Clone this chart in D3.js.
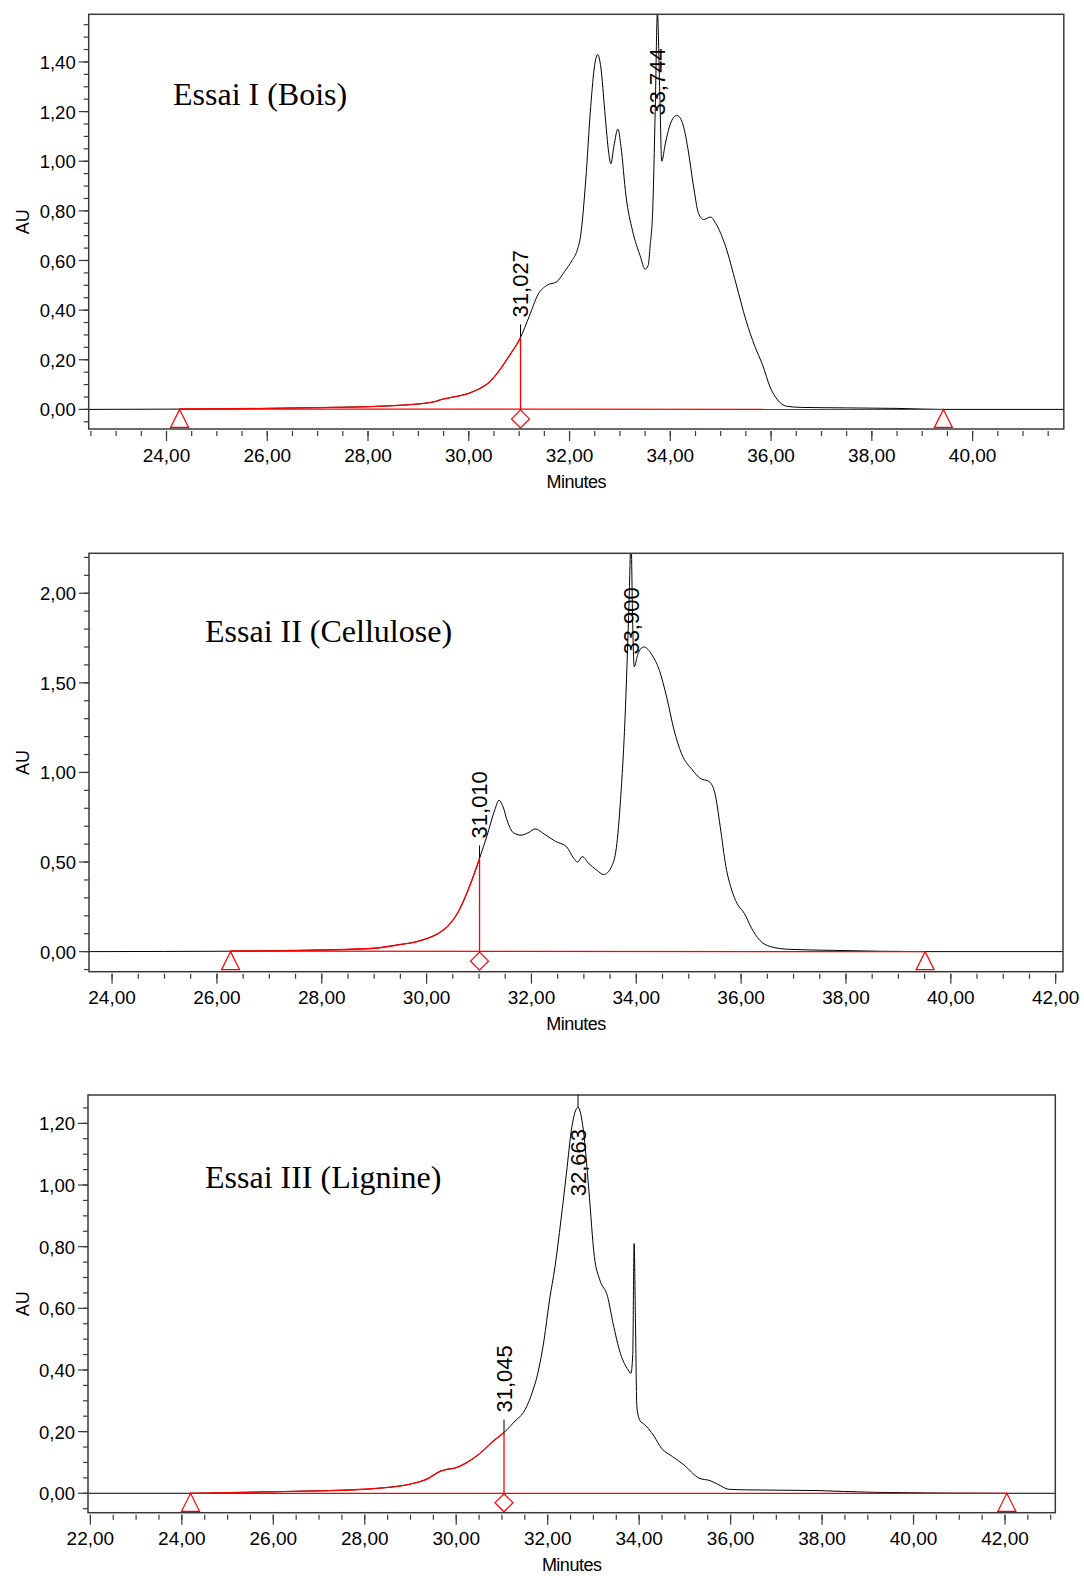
<!DOCTYPE html>
<html><head><meta charset="utf-8">
<script src="https://cdn.jsdelivr.net/npm/d3@7"></script>
<style>body{margin:0;background:#fff}svg{display:block}</style>
</head><body>
<svg id="chart" width="1084" height="1576"></svg>
<script>
// ---------------- DATA ----------------
// Essai I (Bois)
const essai1Title = "Essai I (Bois)";
const essai1Time = [22.46,24.0,25.0,26.0,27.0,28.0,28.5,29.0,29.3,29.5,29.7,30.0,30.2,30.4,30.6,30.8,31.027,31.2,31.38,31.55,31.75,31.9,32.05,32.15,32.22,32.32,32.42,32.5,32.56,32.62,32.7,32.78,32.82,32.88,32.96,33.02,33.12,33.25,33.4,33.5,33.56,33.6,33.65,33.7,33.744,33.79,33.83,33.9,34.0,34.13,34.24,34.35,34.46,34.56,34.66,34.8,34.9,35.1,35.3,35.5,35.68,35.83,35.98,36.13,36.3,36.6,37.5,38.5,39.42,41.87];
const essai1AU   = [0,0.001,0.002,0.004,0.007,0.011,0.015,0.022,0.03,0.042,0.05,0.065,0.082,0.108,0.155,0.215,0.29,0.375,0.465,0.50,0.515,0.555,0.60,0.64,0.70,0.92,1.22,1.39,1.43,1.38,1.2,1.03,0.99,1.06,1.13,1.06,0.86,0.72,0.62,0.565,0.58,0.66,0.80,1.2,1.6,1.28,1.0,1.07,1.15,1.185,1.155,1.05,0.9,0.79,0.765,0.775,0.75,0.655,0.51,0.36,0.253,0.18,0.09,0.038,0.013,0.008,0.006,0.004,0.0,0.0];
const essai1XTicks = [24,26,28,30,32,34,36,38,40];
const essai1YTicks = [0,0.2,0.4,0.6,0.8,1.0,1.2,1.4];
const essai1Peaks = [31.027,33.744];
const essai1PeakLabels = ["31,027","33,744"];
const essai1Integration = [24.26,31.027,39.42]; // start, drop, end

// Essai II (Cellulose)
const essai2Title = "Essai II (Cellulose)";
const essai2Time = [23.56,25.0,26.0,27.0,28.0,29.0,29.5,29.8,30.0,30.2,30.4,30.6,30.8,31.01,31.15,31.3,31.38,31.45,31.55,31.65,31.8,31.95,32.07,32.25,32.46,32.67,32.81,32.88,32.97,33.1,33.24,33.38,33.52,33.62,33.7,33.785,33.86,33.9,33.93,33.96,34.03,34.14,34.3,34.44,34.58,34.72,34.86,35.07,35.22,35.39,35.5,35.6,35.71,35.82,35.92,36.06,36.2,36.35,36.56,36.91,37.76,39.51,42.14];
const essai2AU   = [0,0.001,0.002,0.004,0.009,0.019,0.04,0.055,0.072,0.098,0.14,0.22,0.35,0.52,0.645,0.79,0.845,0.815,0.72,0.665,0.65,0.665,0.685,0.655,0.615,0.585,0.52,0.50,0.53,0.49,0.456,0.43,0.47,0.58,0.85,1.3,1.93,2.3,1.85,1.59,1.66,1.70,1.656,1.57,1.42,1.237,1.107,1.014,0.967,0.949,0.884,0.70,0.474,0.344,0.27,0.214,0.13,0.065,0.028,0.013,0.007,0.0,0.0];
const essai2XTicks = [24,26,28,30,32,34,36,38,40,42];
const essai2YTicks = [0,0.5,1.0,1.5,2.0];
const essai2Peaks = [31.01,33.9];
const essai2PeakLabels = ["31,010","33,900"];
const essai2Integration = [26.26,31.01,39.51];

// Essai III (Lignine)
const essai3Title = "Essai III (Lignine)";
const essai3Time = [21.95,24.19,25.0,26.0,27.0,28.0,28.5,29.0,29.4,29.6,29.75,30.0,30.2,30.4,30.6,30.8,31.045,31.31,31.47,31.63,31.8,31.92,32.04,32.16,32.29,32.41,32.53,32.663,32.78,32.9,33.02,33.14,33.31,33.43,33.59,33.76,33.82,33.86,33.89,33.92,33.95,34.02,34.1,34.2,34.33,34.49,34.73,34.98,35.31,35.55,35.71,35.96,36.37,37.84,39.14,42.04,43.1];
const essai3AU   = [0,0,0.002,0.005,0.008,0.013,0.019,0.03,0.049,0.068,0.076,0.083,0.097,0.116,0.14,0.168,0.197,0.238,0.262,0.314,0.40,0.497,0.627,0.735,0.886,1.038,1.19,1.252,1.178,0.984,0.768,0.692,0.638,0.551,0.454,0.40,0.389,0.45,0.81,0.55,0.28,0.235,0.225,0.21,0.184,0.146,0.119,0.092,0.049,0.041,0.03,0.013,0.011,0.009,0.003,0.0,0.0];
const essai3XTicks = [22,24,26,28,30,32,34,36,38,40,42];
const essai3YTicks = [0,0.2,0.4,0.6,0.8,1.0,1.2];
const essai3Peaks = [31.045,32.663];
const essai3PeakLabels = ["31,045","32,663"];
const essai3Integration = [24.19,31.045,42.04];

const xAxisTitle = "Minutes";
const yAxisTitle = "AU";

// ---------------- LAYOUT ----------------
const panels = [
  {title: essai1Title, time: essai1Time, au: essai1AU, xTicks: essai1XTicks, yTicks: essai1YTicks,
   peaks: essai1Peaks, peakLabels: essai1PeakLabels, integ: essai1Integration,
   xDomain:[22.456,41.81], yDomain:[-0.079,1.592], xMinorStep:0.5, yMinorStep:0.05,
   left:88.7, right:1063.8, top:14.3, bottom:429, titleX:173, titleY:105},
  {title: essai2Title, time: essai2Time, au: essai2AU, xTicks: essai2XTicks, yTicks: essai2YTicks,
   peaks: essai2Peaks, peakLabels: essai2PeakLabels, integ: essai2Integration,
   xDomain:[23.56,42.14], yDomain:[-0.112,2.223], xMinorStep:0.5, yMinorStep:0.1,
   left:89, right:1063, top:553.3, bottom:971.7, titleX:205, titleY:641.5},
  {title: essai3Title, time: essai3Time, au: essai3AU, xTicks: essai3XTicks, yTicks: essai3YTicks,
   peaks: essai3Peaks, peakLabels: essai3PeakLabels, integ: essai3Integration,
   xDomain:[21.948,43.1], yDomain:[-0.063,1.292], xMinorStep:0.5, yMinorStep:0.05,
   left:88, right:1055.3, top:1095, bottom:1512.7, titleX:205, titleY:1188}
];

const svg = d3.select("#chart");
const sans = "'Liberation Sans', Arial, Helvetica, sans-serif";
const serif = "'Liberation Serif', 'Times New Roman', Times, serif";
const fmt = v => d3.format(".2f")(v).replace(".", ",");
const red = "#ff0000";
const frameColor = "#3a3a3a";

panels.forEach((p, i) => {
  const g = svg.append("g");
  const x = d3.scaleLinear().domain(p.xDomain).range([p.left, p.right]);
  const y = d3.scaleLinear().domain(p.yDomain).range([p.bottom, p.top]);
  const data = p.time.map((t, k) => ({t, v: p.au[k]}));
  const valueAt = t => {
    const k = d3.bisector(d => d.t).left(data, t);
    if (k <= 0) return data[0].v;
    if (k >= data.length) return data[data.length-1].v;
    const a = data[k-1], b = data[k];
    if (b.t === t) return b.v;
    return a.v + (b.v - a.v) * (t - a.t) / (b.t - a.t);
  };

  const clipId = "clip" + i, redClipId = "redclip" + i;
  const defs = svg.append("defs");
  defs.append("clipPath").attr("id", clipId).append("rect")
    .attr("x", p.left).attr("y", p.top).attr("width", p.right - p.left).attr("height", p.bottom - p.top);
  defs.append("clipPath").attr("id", redClipId).append("rect")
    .attr("x", x(p.integ[0])).attr("y", p.top)
    .attr("width", x(p.integ[1]) - x(p.integ[0])).attr("height", p.bottom - p.top);

  // y ticks
  const [y0, y1] = p.yDomain;
  const yMinor = d3.range(Math.ceil(y0 / p.yMinorStep) * p.yMinorStep, y1 + 1e-9, p.yMinorStep);
  g.selectAll(".ymin").data(yMinor).join("line")
    .attr("x1", p.left - 5).attr("x2", p.left).attr("y1", d => y(d)).attr("y2", d => y(d))
    .attr("stroke", frameColor).attr("stroke-width", 1.2);
  g.selectAll(".ymaj").data(p.yTicks).join("line")
    .attr("x1", p.left - 10).attr("x2", p.left).attr("y1", d => y(d)).attr("y2", d => y(d))
    .attr("stroke", frameColor).attr("stroke-width", 1.2);
  g.selectAll(".ylab").data(p.yTicks).join("text")
    .attr("x", p.left - 13).attr("y", d => y(d)).attr("dy", "0.38em")
    .attr("text-anchor", "end").attr("font-family", sans).attr("font-size", 18.5).attr("fill", "#000")
    .text(fmt);

  // x ticks
  const [x0, x1] = p.xDomain;
  const xMinor = d3.range(Math.ceil(x0 / p.xMinorStep) * p.xMinorStep, x1 + 1e-9, p.xMinorStep);
  g.selectAll(".xmin").data(xMinor).join("line")
    .attr("x1", d => x(d)).attr("x2", d => x(d)).attr("y1", p.bottom + 2).attr("y2", p.bottom + 7)
    .attr("stroke", frameColor).attr("stroke-width", 1.2);
  g.selectAll(".xmaj").data(p.xTicks).join("line")
    .attr("x1", d => x(d)).attr("x2", d => x(d)).attr("y1", p.bottom + 2).attr("y2", p.bottom + 12)
    .attr("stroke", frameColor).attr("stroke-width", 1.2);
  g.selectAll(".xlab").data(p.xTicks).join("text")
    .attr("x", d => x(d)).attr("y", p.bottom + 32.5)
    .attr("text-anchor", "middle").attr("font-family", sans).attr("font-size", 19).attr("fill", "#000")
    .text(fmt);

  // axis titles
  g.append("text").attr("x", (p.left + p.right) / 2).attr("y", p.bottom + 58.5)
    .attr("text-anchor", "middle").attr("font-family", sans).attr("font-size", 18)
    .attr("letter-spacing", "-0.5px").text(xAxisTitle);
  g.append("text").attr("transform", `translate(29,${(p.top + p.bottom) / 2}) rotate(-90)`)
    .attr("text-anchor", "middle").attr("font-family", sans).attr("font-size", 18).text(yAxisTitle);

  // title
  g.append("text").attr("x", p.titleX).attr("y", p.titleY)
    .attr("font-family", serif).attr("font-size", 32).attr("fill", "#000").text(p.title);

  // signal (black)
  const line = d3.line().x(d => x(d.t)).y(d => y(d.v)).curve(d3.curveMonotoneX);
  g.append("path").datum(data).attr("d", line).attr("clip-path", `url(#${clipId})`)
    .attr("fill", "none").attr("stroke", "#000").attr("stroke-width", 1);

  // red baseline
  const [ts, td, te] = p.integ;
  g.append("line").attr("x1", x(ts)).attr("y1", y(valueAt(ts))).attr("x2", x(te)).attr("y2", y(valueAt(te)))
    .attr("stroke", red).attr("stroke-width", 1.2);
  // red integrated signal
  g.append("path").datum(data).attr("d", line).attr("clip-path", `url(#${redClipId})`)
    .attr("fill", "none").attr("stroke", red).attr("stroke-width", 1.3);
  // drop line
  g.append("line").attr("x1", x(td)).attr("x2", x(td)).attr("y1", y(0)).attr("y2", y(valueAt(td)))
    .attr("stroke", red).attr("stroke-width", 1.3);

  // markers
  [ts, te].forEach(t => {
    const cx = x(t), cy = y(0);
    g.append("path").attr("d", `M${cx},${cy} L${cx + 9},${cy + 18} L${cx - 9},${cy + 18} Z`)
      .attr("fill", "none").attr("stroke", red).attr("stroke-width", 1.2);
  });
  {
    const cx = x(td), cy = y(0) + 9.5;
    g.append("path").attr("d", `M${cx},${cy - 9} L${cx + 9},${cy} L${cx},${cy + 9} L${cx - 9},${cy} Z`)
      .attr("fill", "none").attr("stroke", red).attr("stroke-width", 1.2);
  }

  // frame
  g.append("rect").attr("x", p.left).attr("y", p.top).attr("width", p.right - p.left).attr("height", p.bottom - p.top)
    .attr("fill", "none").attr("stroke", frameColor).attr("stroke-width", 1.5);

  // peak labels
  p.peaks.forEach((t, k) => {
    const px = x(t);
    const py = Math.max(p.top, y(valueAt(t)));
    g.append("line").attr("x1", px).attr("x2", px).attr("y1", py).attr("y2", Math.max(p.top, py - 13))
      .attr("stroke", "#000").attr("stroke-width", 1);
    const txt = g.append("text").attr("font-family", sans).attr("font-size", 22).attr("fill", "#000")
      .attr("text-anchor", "start").text(p.peakLabels[k]);
    const L = txt.node().getComputedTextLength();
    let start = py - 20;
    if (start - L < p.top + 34) start = p.top + 34 + L;
    txt.attr("transform", `translate(${px + 7.5},${start}) rotate(-90)`);
  });
});
</script>
</body></html>
